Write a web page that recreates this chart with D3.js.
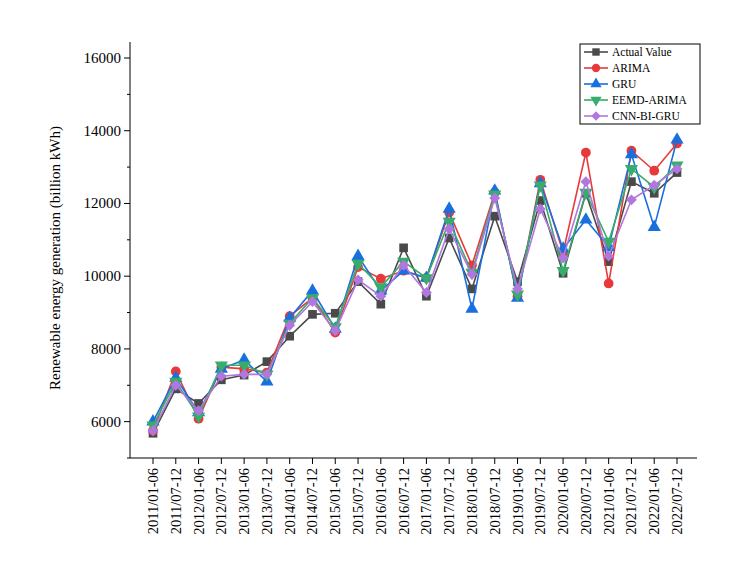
<!DOCTYPE html><html><head><meta charset="utf-8"><script src="https://cdn.jsdelivr.net/npm/d3@7"></script>
<style>body{margin:0;background:#fff}text{font-family:"Liberation Serif","Times New Roman",serif}</style></head><body><svg id="c" width="756" height="582"></svg><script>
const categories=["2011/01-06","2011/07-12","2012/01-06","2012/07-12","2013/01-06","2013/07-12","2014/01-06","2014/07-12","2015/01-06","2015/07-12","2016/01-06","2016/07-12","2017/01-06","2017/07-12","2018/01-06","2018/07-12","2019/01-06","2019/07-12","2020/01-06","2020/07-12","2021/01-06","2021/07-12","2022/01-06","2022/07-12"];
const actual=[5680,6900,6500,7150,7280,7650,8350,8950,8980,9850,9230,10780,9450,11050,9650,11650,9850,12080,10080,12280,10400,12600,12280,12850];
const arima=[5750,7380,6080,7500,7450,7350,8900,9400,8450,10250,9930,10150,9950,11750,10300,12300,9450,12650,10650,13400,9800,13450,12900,13650];
const gru=[6000,7200,6250,7450,7700,7100,8850,9600,8550,10550,9600,10150,9950,11850,9100,12350,9400,12550,10750,11550,10800,13350,11350,13750];
const eemd=[5900,7100,6150,7550,7550,7300,8700,9400,8600,10350,9700,10400,9950,11500,10100,12250,9500,12500,10150,12300,10950,12950,12450,13050];
const cnn=[5750,7000,6300,7250,7300,7300,8650,9300,8500,9900,9450,10300,9550,11300,10050,12150,9650,11850,10500,12600,10550,12100,12500,12950];
const yTicks=[6000,8000,10000,12000,14000,16000];
const series=[
 {name:"Actual Value",v:actual,c:"#4a4a4a",s:d3.symbolSquare,r:0},
 {name:"ARIMA",v:arima,c:"#e8393a",s:d3.symbolCircle,r:0},
 {name:"GRU",v:gru,c:"#1a6fdf",s:d3.symbolTriangle,r:0},
 {name:"EEMD-ARIMA",v:eemd,c:"#37ad6b",s:d3.symbolTriangle,r:180},
 {name:"CNN-BI-GRU",v:cnn,c:"#b177de",s:d3.symbolDiamond2||d3.symbolDiamond,r:0}];
const svg=d3.select("#c");
const x=d3.scalePoint().domain(categories).range([153,677]);
const y=d3.scaleLinear().domain([5000,16000]).range([458,58]);
const g=svg.append("g");
g.append("line").attr("x1",130).attr("x2",130).attr("y1",42).attr("y2",458).attr("stroke","#000");
g.append("line").attr("x1",130).attr("x2",697).attr("y1",458).attr("y2",458).attr("stroke","#000");
d3.range(5000,16001,1000).forEach(t=>{const major=t%2000===0;
 g.append("line").attr("x1",130).attr("x2",major?124:127).attr("y1",y(t)).attr("y2",y(t)).attr("stroke","#000");});
yTicks.forEach(t=>g.append("text").attr("x",121).attr("y",y(t)+5).attr("text-anchor","end").attr("font-size",15).text(t));
categories.forEach(c=>{const xx=x(c);
 g.append("line").attr("x1",xx).attr("x2",xx).attr("y1",458).attr("y2",464).attr("stroke","#000");
 g.append("text").attr("transform",`translate(${xx+5},468) rotate(-90)`).attr("text-anchor","end").attr("font-size",14.5).text(c);});
g.append("text").attr("transform","translate(60,258) rotate(-90)").attr("text-anchor","middle").attr("font-size",15).text("Renewable energy generation (billion kWh)");
const line=d3.line().x((d,i)=>x(categories[i])).y(d=>y(d));
series.forEach(s=>{
 g.append("path").attr("d",line(s.v)).attr("fill","none").attr("stroke",s.c).attr("stroke-width",1.6);
 s.v.forEach((v,i)=>g.append("path").attr("d",d3.symbol().type(s.s).size(75)()).attr("fill",s.c)
  .attr("transform",`translate(${x(categories[i])},${y(v)}) rotate(${s.r})`));
});
const lg=g.append("g").attr("transform","translate(580,44)");
lg.append("rect").attr("width",120).attr("height",80).attr("fill","#fff").attr("stroke","#000");
series.forEach((s,i)=>{const yy=8+i*16;
 lg.append("line").attr("x1",4).attr("x2",28).attr("y1",yy).attr("y2",yy).attr("stroke",s.c).attr("stroke-width",1.6);
 lg.append("path").attr("d",d3.symbol().type(s.s).size(55)()).attr("fill",s.c).attr("transform",`translate(16,${yy}) rotate(${s.r})`);
 lg.append("text").attr("x",32).attr("y",yy+4).attr("font-size",11.5).text(s.name);});
</script></body></html>
